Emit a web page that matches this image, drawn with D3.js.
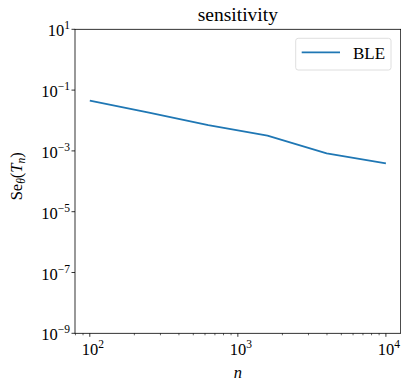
<!DOCTYPE html>
<html><head><meta charset="utf-8">
<script src="https://cdn.jsdelivr.net/npm/d3@7"></script>
<style>body{margin:0;background:#fff}svg{display:block}text{font-family:"Liberation Serif","DejaVu Serif",serif;fill:#000}</style>
</head><body><svg id="c" width="401" height="382"></svg>
<script>
const nValues = [100, 251, 631, 1585, 3981, 10000];
const bleValues = [0.0448, 0.0181, 0.0071, 0.00316, 0.00083, 0.00039];
const yTickExps = [1, -1, -3, -5, -7, -9];
const xTickExps = [2, 3, 4];
const seriesName = "BLE";

const svg = d3.select("#c");
const L = 75, R = 400.7, T = 29.3, B = 333.3;
const x = d3.scaleLog().domain([Math.pow(10,1.9), Math.pow(10,4.1)]).range([L, R]);
const y = d3.scaleLog().domain([1e-9, 1e1]).range([B, T]);

// line
const line = d3.line().x((d,i)=>x(nValues[i])).y(d=>y(d));
svg.append("path").datum(bleValues).attr("d", line).attr("fill","none")
  .attr("stroke","#1f77b4").attr("stroke-width",1.8).attr("stroke-linejoin","round");

// spines
svg.append("rect").attr("x",L).attr("y",T).attr("width",R-L).attr("height",B-T)
  .attr("fill","none").attr("stroke","#000").attr("stroke-width",0.8);

const FS = 16.5, SS = 11.5;
// y ticks
const gy = svg.append("g");
yTickExps.forEach(e=>{
  const yy = y(Math.pow(10,e));
  gy.append("line").attr("x1",L-3.5).attr("x2",L).attr("y1",yy).attr("y2",yy).attr("stroke","#000").attr("stroke-width",0.8);
  const t = gy.append("text").attr("x",L-5).attr("y",yy+7).attr("text-anchor","end").style("font-size",FS+"px");
  t.append("tspan").text("10");
  t.append("tspan").attr("dy",-7).style("font-size",SS+"px").text(e<0 ? "\u2212"+(-e) : String(e));
});

// x ticks (major + minor)
const gx = svg.append("g");
const minor = [];
for (let k=1;k<=4;k++) for (let m=2;m<=9;m++){ const v=m*Math.pow(10,k); if (v>=x.domain()[0] && v<=x.domain()[1]) minor.push(v); }
minor.forEach(v=>{
  const xx = x(v);
  gx.append("line").attr("x1",xx).attr("x2",xx).attr("y1",B).attr("y2",B+2).attr("stroke","#000").attr("stroke-width",0.6);
});
xTickExps.forEach(e=>{
  const xx = x(Math.pow(10,e));
  gx.append("line").attr("x1",xx).attr("x2",xx).attr("y1",B).attr("y2",B+3.5).attr("stroke","#000").attr("stroke-width",0.8);
  const t = gx.append("text").attr("x",xx+3).attr("y",B+22).attr("text-anchor","middle").style("font-size",FS+"px");
  t.append("tspan").text("10");
  t.append("tspan").attr("dy",-7).style("font-size",SS+"px").text(String(e));
});

// title
svg.append("text").attr("x",(L+R)/2).attr("y",21).attr("text-anchor","middle").style("font-size","19.5px").text("sensitivity");

// x label
svg.append("text").attr("x",(L+R)/2).attr("y",378).attr("text-anchor","middle").style("font-size","16.5px").style("font-style","italic").text("n");

// y label
const yl = svg.append("text").attr("transform",`translate(22,${(T+B)/2 - 5}) rotate(-90)`).attr("text-anchor","middle").style("font-size","16.5px");
yl.append("tspan").text("Se");
yl.append("tspan").attr("dy",3).style("font-size","11.5px").style("font-style","italic").text("\u03b8");
yl.append("tspan").attr("dy",-3).text("(");
yl.append("tspan").style("font-style","italic").text("T");
yl.append("tspan").attr("dy",3).style("font-size","11.5px").style("font-style","italic").text("n");
yl.append("tspan").attr("dy",-3).text(")");

// legend
const lg = svg.append("g");
lg.append("rect").attr("x",295.7).attr("y",38.3).attr("width",95.3).attr("height",31.7).attr("rx",2.5)
  .attr("fill","#fff").attr("fill-opacity",0.8).attr("stroke","#d6d6d6").attr("stroke-width",0.8);
lg.append("line").attr("x1",301.7).attr("x2",340).attr("y1",52.3).attr("y2",52.3).attr("stroke","#1f77b4").attr("stroke-width",1.8);
lg.append("text").attr("x",353).attr("y",59).style("font-size","17px").text(seriesName);
</script></body></html>
